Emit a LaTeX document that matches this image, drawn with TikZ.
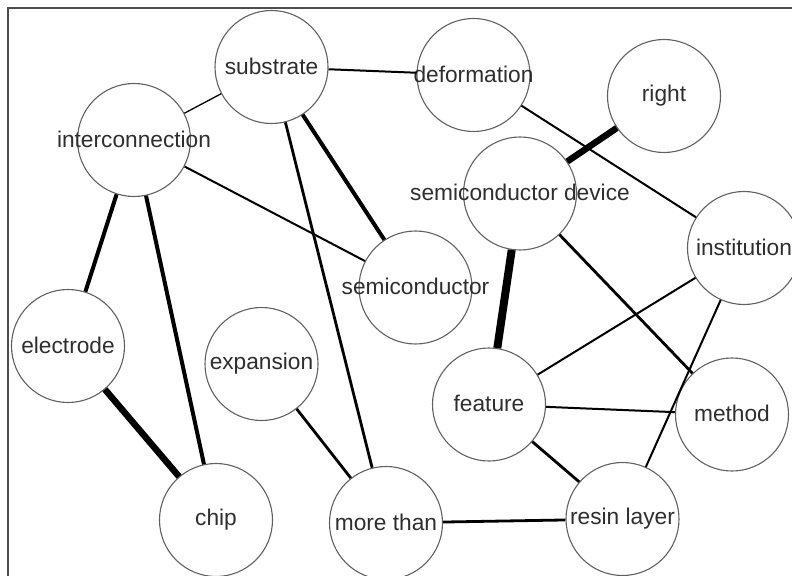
\documentclass[tikz,border=0pt]{standalone}
\usepackage{fontspec}
\setmainfont{Liberation Sans}
\newcommand{\termtext}[1]{\raisebox{2bp}{\makebox[0pt]{#1}}}
\begin{document}
\begin{tikzpicture}[x=1bp,y=-1bp,
  term/.style={circle,draw=black!62,line width=1.1bp,fill=white,
    minimum size=113bp,inner sep=0pt,text=black!82,
    font=\fontsize{22.7bp}{24bp}\selectfont},
  wa/.style={line width=1.3bp},
  wb/.style={line width=2bp},
  wc/.style={line width=2.8bp},
  wd/.style={line width=4bp},
  we/.style={line width=6.5bp},
  wf/.style={line width=8bp}]
\useasboundingbox (0,0) rectangle (792,576);
% frame along the left and top edges
\draw[black!70,line width=1.2bp] (8,576) -- (8,8) -- (792,8);

% terms
\node[term] (sub) at (271.5,67) {\termtext{substrate}};
\node[term] (def) at (473.5,75) {\termtext{deformation}};
\node[term] (rgt) at (664,96) {\termtext{right}};
\node[term] (int) at (134,140) {\termtext{interconnection}};
\node[term] (sdv) at (520,193.5) {\termtext{semiconductor device}};
\node[term] (ins) at (744,248) {\termtext{institution}};
\node[term] (smc) at (415.5,287.5) {\termtext{semiconductor}};
\node[term] (ele) at (68,346) {\termtext{electrode}};
\node[term] (exp) at (261.5,364) {\termtext{expansion}};
\node[term] (fea) at (489,404.5) {\termtext{feature}};
\node[term] (met) at (732,414.5) {\termtext{method}};
\node[term] (chp) at (216,520) {\termtext{chip}};
\node[term] (mor) at (386,523) {\termtext{more than}};
\node[term] (res) at (622.5,519) {\termtext{resin layer}};

% links, weighted by line width
\draw[wb] (sub) -- (def);
\draw[wa] (sub) -- (int);
\draw[wd] (sub) -- (smc);
\draw[wc] (sub) -- (mor);
\draw[wb] (int) -- (smc);
\draw[wd] (int) -- (ele);
\draw[wd] (int) -- (chp);
\draw[we] (ele) -- (chp);
\draw[wc] (exp) -- (mor);
\draw[wb] (def) -- (ins);
\draw[we] (rgt) -- (sdv);
\draw[wf] (sdv) -- (fea);
\draw[wc] (sdv) -- (met);
\draw[wb] (ins) -- (fea);
\draw[wb] (ins) -- (res);
\draw[wb] (fea) -- (met);
\draw[wc] (fea) -- (res);
\draw[wc] (mor) -- (res);
\end{tikzpicture}
\end{document}
